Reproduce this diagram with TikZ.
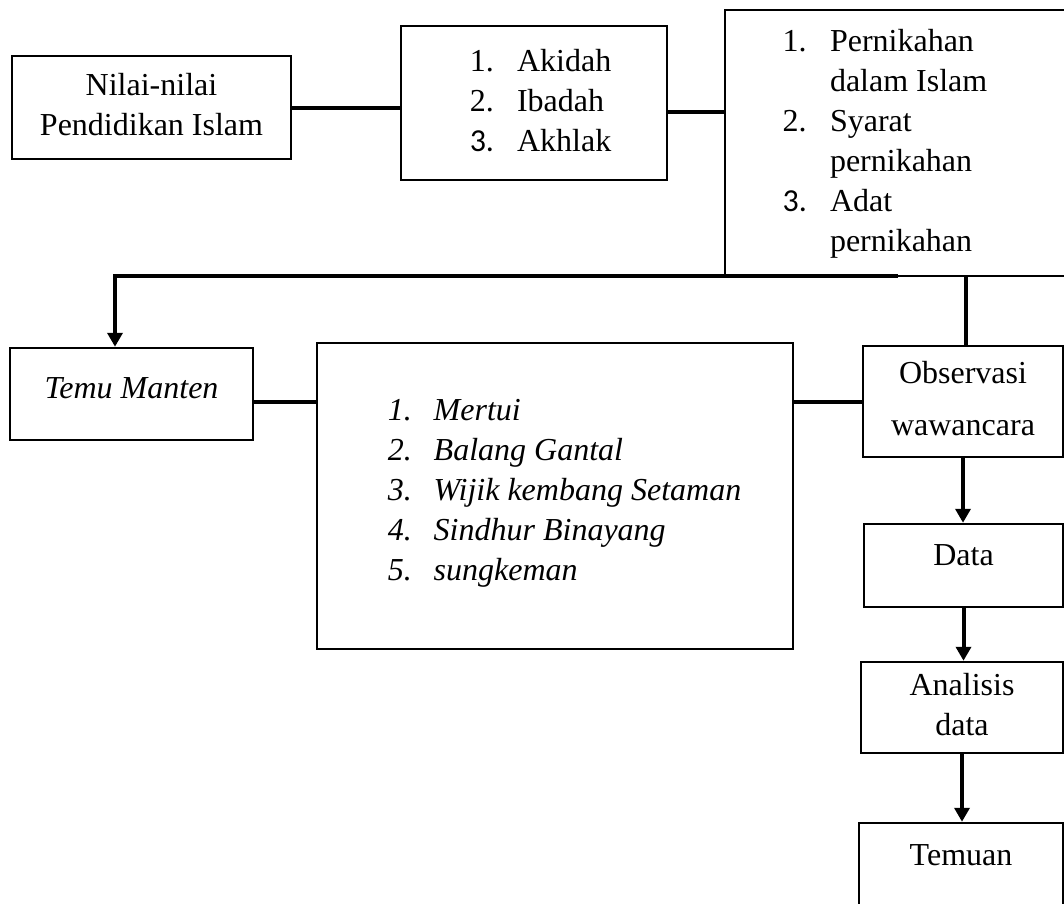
\documentclass[tikz,border=0pt]{standalone}
\usepackage{fontspec}
\setmainfont{Liberation Serif}
\newfontfamily\angkasans{Carlito}
\usetikzlibrary{arrows.meta}

\tikzset{
  kotak/.style={draw, line width=2.5pt, inner sep=0pt, font=\fontsize{32}{40}\selectfont},
  garis/.style={line width=4pt},
  panah/.style={line width=4pt, -{Triangle[width=15pt,length=14pt]}}
}

\begin{document}
\begin{tikzpicture}[x=1pt,y=-1pt]
\useasboundingbox (0,0) rectangle (1064,903);
\node (nilai) [kotak, minimum width=279pt, minimum height=103pt] at (151.5,107.5)
  {\begin{tabular}{@{}c@{}}Nilai-nilai\\Pendidikan Islam\end{tabular}};
\node (aspek) [kotak, minimum width=266pt, minimum height=154pt] at (534,103)
  {\hspace*{13pt}\begin{tabular}{@{}l@{\hspace{23pt}}l@{}}1. & Akidah\\2. & Ibadah\\{\angkasans 3.} & Akhlak\end{tabular}};
\node (materi) [kotak, minimum width=345pt, minimum height=266pt] at (897.5,143)
  {\hspace*{-25pt}\begin{tabular}{@{}l@{\hspace{23pt}}l@{}}1. & Pernikahan\\ & dalam Islam\\2. & Syarat\\ & pernikahan\\{\angkasans 3.} & Adat\\ & pernikahan\end{tabular}};
\node (temu) [kotak, minimum width=243pt, minimum height=92pt, text height=21pt, text depth=12pt] at (131.5,394)
  {\itshape Temu Manten};
\node (tradisi) [kotak, minimum width=476pt, minimum height=306pt] at (555,496)
  {\hspace*{19pt}\itshape\begin{tabular}{@{}l@{\hspace{22pt}}l@{}}1. & Mertui\\2. & Balang Gantal\\3. & Wijik kembang Setaman\\4. & Sindhur Binayang\\5. & sungkeman\\[8pt]\end{tabular}};
\node (obs) [kotak, minimum width=200pt, minimum height=111pt] at (963,401.5)
  {\begin{tabular}{@{}c@{}}Observasi\\[12pt]wawancara\end{tabular}};
\node (data) [kotak, minimum width=199pt, minimum height=83pt, text height=21pt, text depth=22pt] at (963.5,565.5)
  {Data};
\node (analisis) [kotak, minimum width=202pt, minimum height=91pt] at (962,707.5)
  {\begin{tabular}{@{}c@{}}Analisis\\data\end{tabular}};
\node (temuan) [kotak, minimum width=204pt, minimum height=107pt, text height=21pt, text depth=44pt] at (961,876.5)
  {Temuan};
\coordinate (kiri) at (115,276);
\coordinate (kanan) at (898,276);
\coordinate (cabang) at (966,276);
\draw[garis] (nilai.east) -- (nilai.east -| aspek.west);
\draw[garis] ([yshift=-9pt]aspek.east) -- ([yshift=-9pt]aspek.east -| materi.west);
\draw[panah] (kanan) -- (kiri) -- (kiri |- temu.north);
\draw[garis] (cabang) -- (cabang |- obs.north);
\draw[garis] ([yshift=-8pt]temu.east) -- ([yshift=-8pt]temu.east -| tradisi.west);
\draw[garis] (obs.west -| tradisi.east) -- (obs.west);
\draw[panah] (obs.south) -- (obs.south |- data.north);
\draw[panah] (data.south) -- (data.south |- analisis.north);
\draw[panah] (analisis.south) -- (analisis.south |- temuan.north);
\end{tikzpicture}
\end{document}
